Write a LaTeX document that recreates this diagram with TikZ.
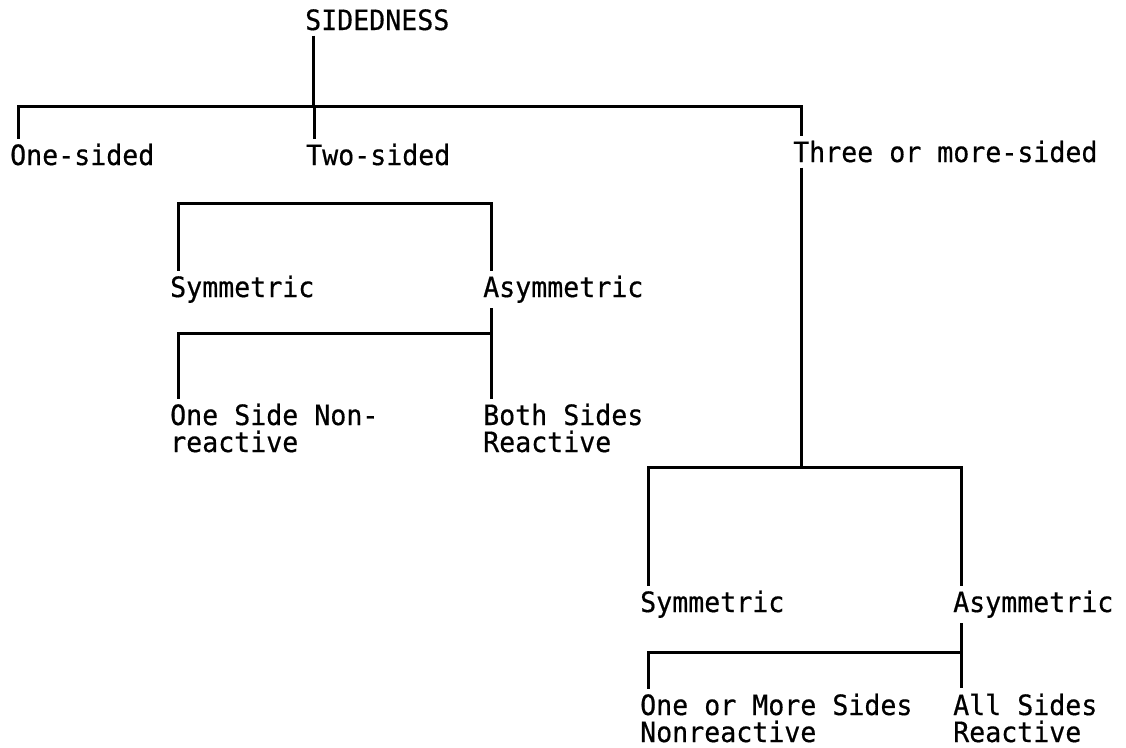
\documentclass[tikz,border=0pt]{standalone}
\usepackage{fontspec}
\newfontfamily\typer[FakeStretch=0.95,FakeBold=0.5]{DejaVu Sans Mono}
\usepackage{tikz}
\tikzstyle{entry} = [anchor=base west, inner xsep=0pt, inner ysep=5pt,
                 align=left, font=\typer\fontsize{28}{27}\selectfont]
\tikzstyle{branch} = [line width=3pt]

\begin{document}
\begin{tikzpicture}[x=1pt,y=-1pt]
\useasboundingbox (0,0) rectangle (1126,747);

% labels
\node[entry] (root) at (305,30) {SIDEDNESS};
\node[entry] (one) at (10,165) {One-sided};
\node[entry] (two) at (306,165) {Two-sided};
\node[entry] (three) at (793,162) {Three or more-sided};
\node[entry] (sym1) at (170,297) {Symmetric};
\node[entry] (asym1) at (483,297) {Asymmetric};
\node[entry] (oneside) at (170,452) {One Side Non-\\reactive};
\node[entry] (both) at (483,452) {Both Sides\\Reactive};
\node[entry] (sym2) at (640,612) {Symmetric};
\node[entry] (asym2) at (953,612) {Asymmetric};
\node[entry] (onemore) at (640,742) {One or More Sides\\Nonreactive};
\node[entry] (allsides) at (953,742) {All Sides\\Reactive};

% attach points
\foreach \n in {root,one,two,three,sym1,asym1,oneside,both,sym2,asym2,onemore,allsides} {
	\coordinate (\n-n) at ([xshift=8pt]\n.north west);
	\coordinate (\n-s) at ([xshift=8pt]\n.south west);
}

% bars
\coordinate (bar1) at (0,106);
\coordinate (bar2) at (0,203);
\coordinate (bar3) at (0,333);
\coordinate (bar4) at (0,467);
\coordinate (bar5) at (0,652);

\draw[branch] (root-s) -- (root-s |- bar1);
\draw[branch] (one-n) -- (one-n |- bar1) -- (three-n |- bar1) -- (three-n);
\draw[branch] (two-n) -- (two-n |- bar1);
\draw[branch] (three-s) -- (three-s |- bar4);

\draw[branch] (sym1-n) -- (sym1-n |- bar2) -- (asym1-n |- bar2) -- (asym1-n);
\draw[branch] (asym1-s) -- (both-n);
\draw[branch] (oneside-n) -- (oneside-n |- bar3) -- (asym1-s |- bar3);

\draw[branch] (sym2-n) -- (sym2-n |- bar4) -- (asym2-n |- bar4) -- (asym2-n);
\draw[branch] (asym2-s) -- (allsides-n);
\draw[branch] (onemore-n) -- (onemore-n |- bar5) -- (asym2-s |- bar5);

\end{tikzpicture}
\end{document}
